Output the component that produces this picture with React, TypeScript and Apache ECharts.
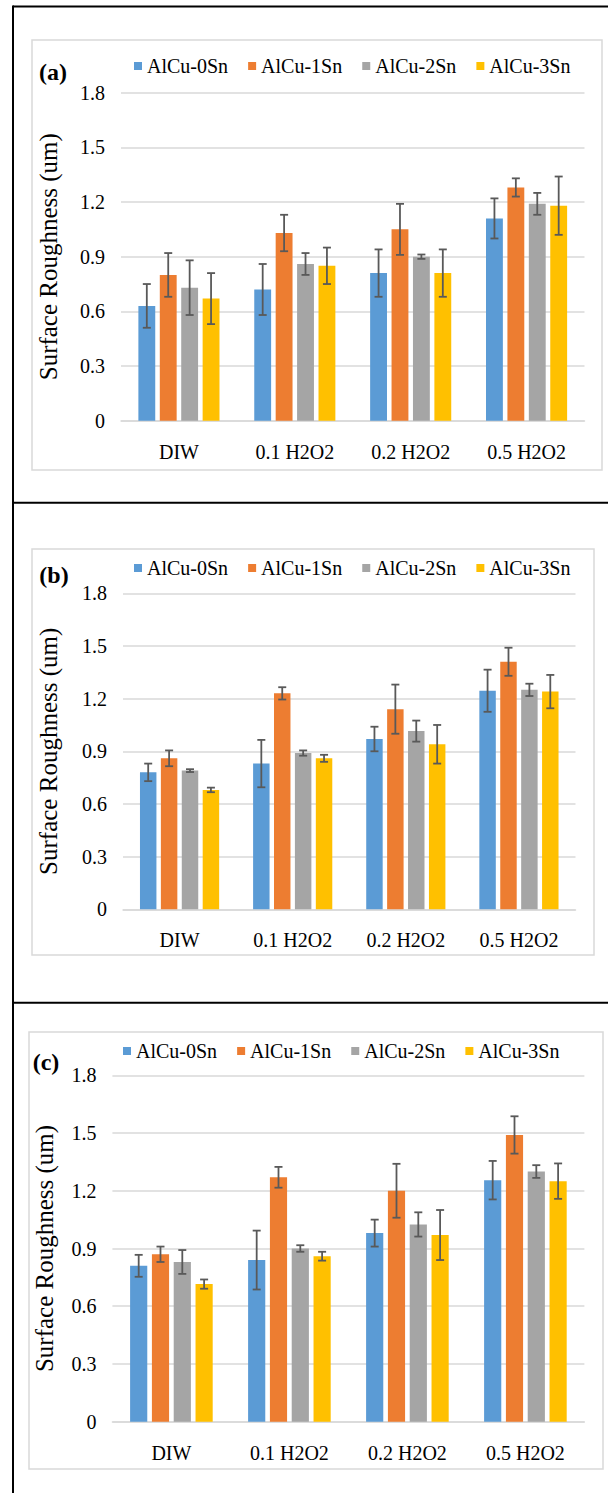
import React, { useEffect, useRef } from "react";
import * as echarts from "echarts";

const categories = ["DIW", "0.1 H2O2", "0.2 H2O2", "0.5 H2O2"];
const alloys = ["AlCu-0Sn", "AlCu-1Sn", "AlCu-2Sn", "AlCu-3Sn"];
const colors = ["#5B9BD5", "#ED7D31", "#A5A5A5", "#FFC000"];
const panelLabels = ["(a)", "(b)", "(c)"];
const yTicks = [0, 0.3, 0.6, 0.9, 1.2, 1.5, 1.8];

// Panel (a)
const meanA0 = [0.63, 0.72, 0.81, 1.11];
const meanA1 = [0.8, 1.03, 1.05, 1.28];
const meanA2 = [0.73, 0.86, 0.9, 1.19];
const meanA3 = [0.67, 0.85, 0.81, 1.18];
const errA0 = [0.12, 0.14, 0.13, 0.11];
const errA1 = [0.12, 0.1, 0.14, 0.05];
const errA2 = [0.15, 0.06, 0.012, 0.06];
const errA3 = [0.14, 0.1, 0.13, 0.16];

// Panel (b)
const meanB0 = [0.78, 0.83, 0.97, 1.245];
const meanB1 = [0.86, 1.23, 1.14, 1.41];
const meanB2 = [0.79, 0.89, 1.015, 1.25];
const meanB3 = [0.68, 0.86, 0.94, 1.24];
const errB0 = [0.05, 0.135, 0.07, 0.12];
const errB1 = [0.045, 0.035, 0.14, 0.08];
const errB2 = [0.008, 0.015, 0.06, 0.035];
const errB3 = [0.013, 0.02, 0.11, 0.095];

// Panel (c)
const meanC0 = [0.81, 0.84, 0.98, 1.255];
const meanC1 = [0.87, 1.27, 1.2, 1.49];
const meanC2 = [0.83, 0.9, 1.025, 1.3];
const meanC3 = [0.715, 0.86, 0.97, 1.25];
const errC0 = [0.057, 0.153, 0.07, 0.1];
const errC1 = [0.04, 0.054, 0.14, 0.097];
const errC2 = [0.062, 0.017, 0.063, 0.033];
const errC3 = [0.024, 0.023, 0.13, 0.092];

const means = [
  [meanA0, meanA1, meanA2, meanA3],
  [meanB0, meanB1, meanB2, meanB3],
  [meanC0, meanC1, meanC2, meanC3],
];
const errs = [
  [errA0, errA1, errA2, errA3],
  [errB0, errB1, errB2, errB3],
  [errC0, errC1, errC2, errC3],
];

const FONT = "Liberation Serif";
const CAT_GAP = 0.3;
const BAR_GAP = 0.27;

const grids = [
  { left: 121, top: 92.7, width: 463.5, height: 328 },
  { left: 123, top: 593.3, width: 452.5, height: 316 },
  { left: 112.4, top: 1075.3, width: 472, height: 346.4 },
];
const frames = [
  { x: 32, y: 40, w: 570, h: 430 },
  { x: 32, y: 549, w: 562, h: 406 },
  { x: 29, y: 1032, w: 574, h: 437 },
];
const legendPos = [
  { left: 134, top: 56 },
  { left: 134, top: 558 },
  { left: 123, top: 1041 },
];
const labelPos = [
  { x: 53, y: 72 },
  { x: 54, y: 575 },
  { x: 46, y: 1062 },
];
const nameGaps = [60, 62, 55];

export default function App() {
  const ref = useRef<HTMLDivElement>(null);
  useEffect(() => {
    if (!ref.current) return;
    const chart = echarts.init(ref.current, null, { renderer: "svg" });

    const series: any[] = [];
    for (let p = 0; p < 3; p++) {
      for (let s = 0; s < 4; s++) {
        series.push({
          type: "bar",
          name: alloys[s],
          xAxisIndex: p,
          yAxisIndex: p,
          data: means[p][s],
          itemStyle: { color: colors[s] },
          barCategoryGap: CAT_GAP * 100 + "%",
          barGap: BAR_GAP * 100 + "%",
          z: 2,
        });
      }
      const errData: number[][] = [];
      for (let s = 0; s < 4; s++) {
        for (let c = 0; c < categories.length; c++) {
          const m = means[p][s][c];
          const e = errs[p][s][c];
          errData.push([c, m - e, m + e, s]);
        }
      }
      series.push({
        type: "custom",
        name: "err" + p,
        xAxisIndex: p,
        yAxisIndex: p,
        data: errData,
        z: 5,
        silent: true,
        renderItem: (params: any, api: any) => {
          const c = api.value(0);
          const lo = api.value(1);
          const hi = api.value(2);
          const s = api.value(3);
          const band = api.size([1, 0])[0];
          const bw = (band * (1 - CAT_GAP)) / (4 + 3 * BAR_GAP);
          const off = (s - 1.5) * bw * (1 + BAR_GAP);
          const pLo = api.coord([c, lo]);
          const pHi = api.coord([c, hi]);
          const x = pLo[0] + off;
          const cap = 4;
          const st = { stroke: "#595959", lineWidth: 1.8 };
          return {
            type: "group",
            children: [
              { type: "line", shape: { x1: x, y1: pLo[1], x2: x, y2: pHi[1] }, style: st },
              { type: "line", shape: { x1: x - cap, y1: pLo[1], x2: x + cap, y2: pLo[1] }, style: st },
              { type: "line", shape: { x1: x - cap, y1: pHi[1], x2: x + cap, y2: pHi[1] }, style: st },
            ],
          };
        },
      });
    }

    const graphics: any[] = [];
    const blk = { stroke: "#000", lineWidth: 2 };
    graphics.push({ type: "line", shape: { x1: 13, y1: 6.5, x2: 608, y2: 6.5 }, style: blk, silent: true });
    graphics.push({ type: "line", shape: { x1: 13, y1: 5.5, x2: 13, y2: 1493 }, style: blk, silent: true });
    graphics.push({ type: "line", shape: { x1: 13, y1: 502.7, x2: 608, y2: 502.7 }, style: blk, silent: true });
    graphics.push({ type: "line", shape: { x1: 13, y1: 1002.7, x2: 608, y2: 1002.7 }, style: blk, silent: true });
    for (let p = 0; p < 3; p++) {
      const f = frames[p];
      graphics.push({
        type: "rect",
        shape: { x: f.x, y: f.y, width: f.w, height: f.h },
        style: { fill: "none", stroke: "#D9D9D9", lineWidth: 1.5 },
        silent: true,
      });
      graphics.push({
        type: "text",
        x: labelPos[p].x,
        y: labelPos[p].y,
        style: {
          text: panelLabels[p],
          font: "bold 24px Liberation Serif",
          fill: "#000",
          align: "center",
          verticalAlign: "middle",
        },
        silent: true,
      });
    }

    const option: any = {
      animation: false,
      backgroundColor: "#fff",
      textStyle: { fontFamily: FONT },
      grid: grids.map((g) => ({ ...g, containLabel: false })),
      legend: legendPos.map((l) => ({
        data: alloys,
        left: l.left,
        top: l.top,
        icon: "rect",
        itemWidth: 8,
        itemHeight: 8,
        itemGap: 20,
        padding: 0,
        selectedMode: false,
        textStyle: { fontFamily: FONT, fontSize: 20, color: "#000" },
      })),
      xAxis: grids.map((_, p) => ({
        type: "category",
        gridIndex: p,
        data: categories,
        axisLine: { show: true, lineStyle: { color: "#D9D9D9", width: 1.5 } },
        axisTick: { show: false },
        axisLabel: { fontFamily: FONT, fontSize: 20, color: "#000", margin: 21, interval: 0 },
      })),
      yAxis: grids.map((_, p) => ({
        type: "value",
        gridIndex: p,
        min: 0,
        max: 1.8,
        interval: 0.3,
        name: "Surface Roughness (um)",
        nameLocation: "middle",
        nameGap: nameGaps[p],
        nameTextStyle: { fontFamily: FONT, fontSize: 25, color: "#000" },
        axisLine: { show: false },
        axisTick: { show: false },
        splitLine: { show: true, lineStyle: { color: "#D9D9D9", width: 1.5 } },
        axisLabel: {
          fontFamily: FONT,
          fontSize: 20,
          color: "#000",
          margin: 16,
          formatter: (v: number) => {
            const t = yTicks.find((k) => Math.abs(k - v) < 1e-6);
            if (t === undefined) return "";
            return t === 0 ? "0" : t.toFixed(1);
          },
        },
      })),
      series,
      graphic: graphics,
    };
    chart.setOption(option);
    return () => chart.dispose();
  }, []);
  return (
    <div
      ref={ref}
      style={{ position: "absolute", left: 0, top: 0, width: 608, height: 1493 }}
    />
  );
}
